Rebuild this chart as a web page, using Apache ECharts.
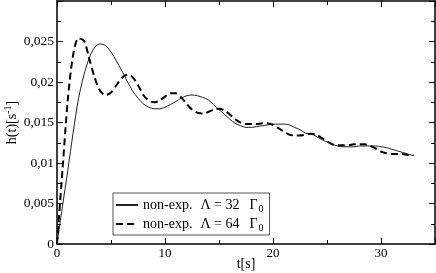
<!DOCTYPE html>
<html><head><meta charset="utf-8">
<script src="https://cdn.jsdelivr.net/npm/echarts@6/dist/echarts.min.js"></script>
<style>html,body{margin:0;padding:0;background:#fff}#c{width:436px;height:273px}</style>
</head><body><div id="c"></div>
<script>
const tValues = [0,0.5,1,1.5,2,2.5,3,3.5,4,4.5,5,5.5,6,6.5,7,7.5,8,8.5,9,9.5,10,10.5,11,11.5,12,12.5,13,13.5,14,14.5,15,15.5,16,16.5,17,17.5,18,18.5,19,19.5,20,20.5,21,21.5,22,22.5,23,23.5,24,24.5,25,25.5,26,26.5,27,27.5,28,28.5,29,29.5,30,30.5,31,31.5,32,32.5,33];
const h32 = [0,0.0046,0.0091,0.0138,0.0180,0.0209,0.0230,0.0243,0.0247,0.0245,0.0237,0.0226,0.0214,0.0201,0.0189,0.0180,0.0173,0.0169,0.0167,0.0167,0.0169,0.0172,0.0176,0.0180,0.0183,0.0184,0.0183,0.0181,0.0178,0.0172,0.0166,0.0160,0.0154,0.0149,0.0146,0.0144,0.0144,0.0145,0.0146,0.0147,0.0148,0.0148,0.0148,0.0147,0.0144,0.0141,0.0137,0.0136,0.0133,0.0129,0.0126,0.0123,0.0121,0.0120,0.0120,0.0120,0.0121,0.0121,0.0121,0.0121,0.0120,0.0119,0.0117,0.0115,0.0113,0.0111,0.0109];
const h64 = [0,0.0090,0.0178,0.0234,0.0254,0.0251,0.0228,0.0205,0.0189,0.0184,0.0187,0.0196,0.0205,0.0209,0.0206,0.0196,0.0184,0.0177,0.0175,0.0177,0.0182,0.0186,0.0186,0.0181,0.0173,0.0166,0.0162,0.0161,0.0163,0.0166,0.0167,0.0165,0.0160,0.0154,0.0150,0.0148,0.0148,0.0148,0.0149,0.0149,0.0147,0.0143,0.0139,0.0135,0.0134,0.0134,0.0135,0.0136,0.0135,0.0131,0.0127,0.0123,0.0122,0.0122,0.0122,0.0123,0.0123,0.0123,0.0121,0.0118,0.0114,0.0112,0.0111,0.0111,0.0111,0.0110,0.0110];
const xTicks = [0,10,20,30];
const yTickLabels = ['0','0,005','0,01','0,015','0,02','0,025'];
const seriesNames = ['L32','L64'];
const legendLabels = {L32:'32', L64:'64'};

const font = 'Liberation Serif';
const chart = echarts.init(document.getElementById('c'));
const pair = arr => tValues.map((t,i)=>[t,arr[i]]);
const axisCommon = {
  axisLine:{show:true,onZero:false,lineStyle:{color:'#000',width:1.5}},
  axisTick:{show:true,inside:true,length:6,lineStyle:{color:'#000',width:1}},
  minorTick:{show:true,splitNumber:2,length:4,lineStyle:{color:'#000',width:1}},
  splitLine:{show:false}
};
chart.setOption({
  animation:false,
  grid:{left:57,right:1,top:1,bottom:29,containLabel:false,outerBoundsMode:'none'},
  xAxis:[
    Object.assign({type:'value',min:0,max:35,interval:10,position:'bottom',
      axisLabel:{color:'#000',fontFamily:font,fontSize:13,margin:3,
        formatter:v=>xTicks.indexOf(v)>=0?String(v):''},
      name:'t[s]',nameLocation:'middle',nameGap:13,nameMoveOverlap:false,
      nameTextStyle:{color:'#000',fontFamily:font,fontSize:14}},axisCommon),
    Object.assign({type:'value',min:0,max:35,interval:10,position:'top',axisLabel:{show:false}},axisCommon)
  ],
  yAxis:[
    Object.assign({type:'value',min:0,max:0.03,interval:0.005,position:'left',
      axisLabel:{color:'#000',fontFamily:font,fontSize:13.5,margin:3,
        formatter:v=>{const i=Math.round(v/0.005);return i<yTickLabels.length?yTickLabels[i]:'';}},
      name:'{a|h(t)[s}{s|-1}{a|]}',nameLocation:'middle',nameGap:36,nameMoveOverlap:false,
      nameTextStyle:{color:'#000',fontFamily:font,fontSize:14,
        rich:{a:{fontFamily:font,fontSize:14,color:'#000'},s:{fontFamily:font,fontSize:10,color:'#000',padding:[0,0,8,0]}}}},axisCommon),
    Object.assign({type:'value',min:0,max:0.03,interval:0.005,position:'right',axisLabel:{show:false}},axisCommon)
  ],
  legend:{
    show:true,orient:'vertical',left:113,top:193,
    borderColor:'#555',borderWidth:1,padding:[5,6,2,2],itemGap:3,
    itemWidth:22,itemHeight:14,
    itemStyle:{opacity:0},
    textStyle:{color:'#000',fontFamily:font,fontSize:14,
      rich:{a:{fontFamily:font,fontSize:14,color:'#000'},g1:{width:8},g2:{width:10},s:{fontFamily:font,fontSize:10,color:'#000',padding:[8,0,0,1]}}},
    formatter:n=>'{a|non-exp.}{g1|}{a|Λ = '+legendLabels[n]+'}{g2|}{a|Γ}{s|0}',
    data:seriesNames
  },
  series:[
    {name:seriesNames[0],type:'line',data:pair(h32),smooth:0.3,showSymbol:false,symbol:'none',
      lineStyle:{color:'#222',width:1,type:'solid'},itemStyle:{color:'#222'}},
    {name:seriesNames[1],type:'line',data:pair(h64),smooth:0.3,showSymbol:false,symbol:'none',
      lineStyle:{color:'#000',width:2,type:[7,4]},itemStyle:{color:'#000'}}
  ]
});
</script></body></html>
